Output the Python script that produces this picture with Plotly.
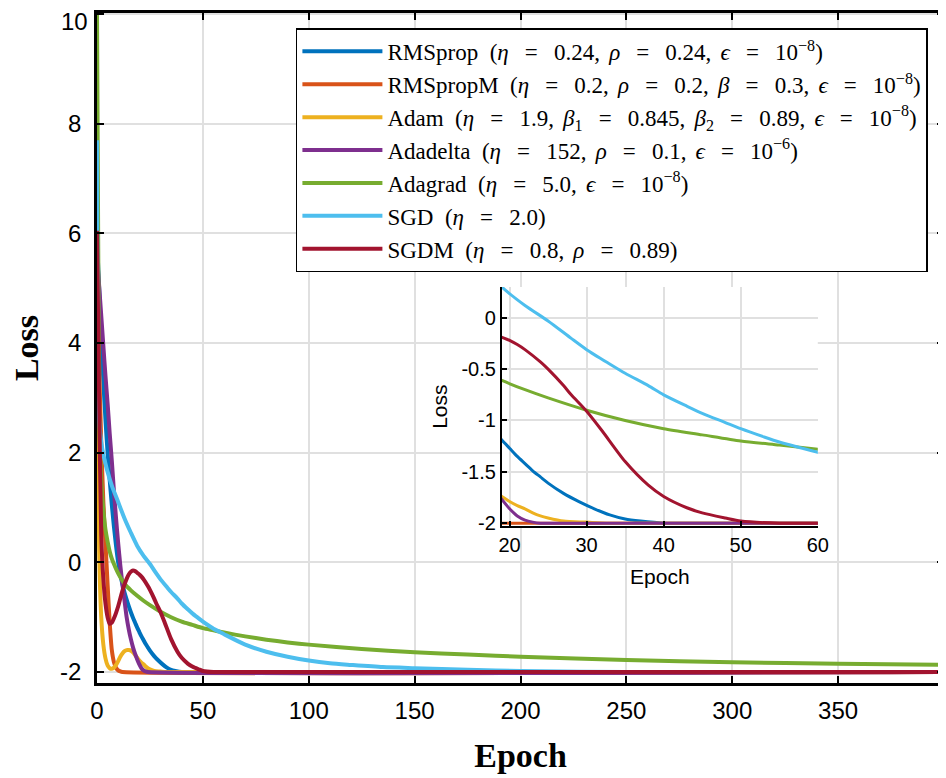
import plotly.graph_objects as go

# Loss curves (epoch, loss)
EQ = '\u2002\u2009=\u2002\u2009'   # wide spacing around "=", as in LaTeX math
CM = ',\u2009\u2009'
SP = '\u2002'
names = [
    f"RMSprop{SP}(<i>η</i>{EQ}0.24{CM}<i>ρ</i>{EQ}0.24{CM}<i>ϵ</i>{EQ}10<sup>−8</sup>)",
    f"RMSpropM{SP}(<i>η</i>{EQ}0.2{CM}<i>ρ</i>{EQ}0.2{CM}<i>β</i>{EQ}0.3{CM}<i>ϵ</i>{EQ}10<sup>−8</sup>)",
    f"Adam{SP}(<i>η</i>{EQ}1.9{CM}<i>β</i><sub>1</sub>{EQ}0.845{CM}<i>β</i><sub>2</sub>{EQ}0.89{CM}<i>ϵ</i>{EQ}10<sup>−8</sup>)",
    f"Adadelta{SP}(<i>η</i>{EQ}152{CM}<i>ρ</i>{EQ}0.1{CM}<i>ϵ</i>{EQ}10<sup>−6</sup>)",
    f"Adagrad{SP}(<i>η</i>{EQ}5.0{CM}<i>ϵ</i>{EQ}10<sup>−8</sup>)",
    f"SGD{SP}(<i>η</i>{EQ}2.0)",
    f"SGDM{SP}(<i>η</i>{EQ}0.8{CM}<i>ρ</i>{EQ}0.89)",
]
colors = ['#0072BD', '#D95319', '#EDB120', '#7E2F8E', '#77AC30', '#4DBEEE', '#A2142F']

rmsprop_x = [0, 1, 2, 3, 4, 5, 6, 7, 8, 9, 10, 11, 12, 13, 14, 15, 16, 17, 18, 19, 20, 21, 22, 23, 24, 25,
             27, 29, 31, 33, 35, 37, 40, 45, 400]
rmsprop_y = [5.9, 5.0, 4.1, 3.3, 2.6, 2.0, 1.5, 1.05, 0.65, 0.3, 0.0, -0.22, -0.4, -0.55, -0.68, -0.8, -0.91,
             -1.01, -1.1, -1.19, -1.27, -1.35, -1.42, -1.49, -1.55, -1.61, -1.71, -1.79, -1.86, -1.92, -1.96,
             -1.98, -2.0, -2.0, -2.0]

rmspropm_x = [0, 1, 2, 3, 4, 5, 6, 7, 8, 9, 10, 11, 12, 400]
rmspropm_y = [5.5, 3.6, 2.2, 1.1, 0.35, -0.4, -1.1, -1.6, -1.82, -1.92, -1.97, -1.99, -2.0, -2.0]

adam_x = [0, 1, 2, 3, 4, 5, 6, 7, 8, 9, 10, 11, 12, 13, 14, 15, 16, 17, 18, 19, 20, 21, 22, 23, 24, 25,
          27, 30, 33, 400]
adam_y = [5.7, 0.3, -1.0, -1.5, -1.75, -1.88, -1.93, -1.94, -1.92, -1.87, -1.8, -1.72, -1.66, -1.62, -1.6,
          -1.6, -1.61, -1.64, -1.69, -1.74, -1.79, -1.83, -1.86, -1.9, -1.93, -1.95, -1.98, -1.99, -2.0, -2.0]

adadelta_x = [0, 1, 2, 3, 4, 5, 6, 7, 8, 9, 10, 11, 12, 13, 14, 15, 16, 17, 18, 19, 20, 21, 22, 23, 24, 400]
adadelta_y = [5.6, 5.05, 4.5, 3.95, 3.4, 2.9, 2.35, 1.85, 1.3, 0.8, 0.35, -0.05, -0.4, -0.7, -1.0, -1.22,
              -1.4, -1.55, -1.67, -1.77, -1.86, -1.93, -1.97, -1.99, -2.0, -2.0]

adagrad_x = [0, 1, 2, 3, 4, 5, 6, 7, 8, 10, 13, 16, 19, 22, 25, 30, 35, 40, 45, 50, 55, 60, 70, 80, 90,
             100, 125, 150, 175, 200, 250, 300, 350, 400]
adagrad_y = [10.0, 2.6, 1.5, 0.95, 0.6, 0.38, 0.2, 0.07, -0.03, -0.2, -0.39, -0.51, -0.61, -0.7, -0.78,
             -0.9, -1.0, -1.08, -1.14, -1.2, -1.24, -1.28, -1.35, -1.41, -1.46, -1.5, -1.58, -1.64, -1.68,
             -1.72, -1.78, -1.82, -1.85, -1.87]

sgd_x = [0, 1, 2, 3, 4, 5, 7, 10, 13, 16, 19, 22, 25, 28, 30, 33, 35, 38, 40, 43, 45, 48, 50, 53, 55, 58,
         60, 70, 80, 90, 100, 110, 120, 135, 150, 175, 200, 250, 400]
sgd_y = [7.7, 2.6, 2.2, 1.97, 1.8, 1.65, 1.4, 1.1, 0.8, 0.54, 0.3, 0.12, -0.03, -0.2, -0.31, -0.45, -0.54,
         -0.66, -0.75, -0.86, -0.93, -1.02, -1.08, -1.16, -1.21, -1.27, -1.31, -1.5, -1.63, -1.72, -1.79,
         -1.84, -1.87, -1.91, -1.93, -1.96, -1.98, -2.0, -2.0]

sgdm_x = [0, 1, 2, 3, 4, 5, 6, 7, 8, 9, 10, 11, 12, 13, 14, 15, 16, 17, 18, 19, 20, 21, 22, 24, 25, 27,
          28, 30, 32, 35, 38, 40, 43, 45, 48, 50, 55, 60, 400]
sgdm_y = [6.05, 3.0, 0.5, -0.3, -0.75, -1.0, -1.12, -1.1, -1.02, -0.92, -0.8, -0.66, -0.52, -0.4, -0.3,
          -0.22, -0.17, -0.15, -0.16, -0.19, -0.22, -0.26, -0.31, -0.43, -0.5, -0.66, -0.75, -0.91, -1.1,
          -1.4, -1.63, -1.74, -1.85, -1.9, -1.95, -1.98, -2.0, -2.0, -2.0]

series_x = [rmsprop_x, rmspropm_x, adam_x, adadelta_x, adagrad_x, sgd_x, sgdm_x]
series_y = [rmsprop_y, rmspropm_y, adam_y, adadelta_y, adagrad_y, sgd_y, sgdm_y]

main_xticks = [0, 50, 100, 150, 200, 250, 300, 350]
main_yticks = [-2, 0, 2, 4, 6, 8, 10]
inset_xticks = [20, 30, 40, 50, 60]
inset_yticks = [-2, -1.5, -1, -0.5, 0]

fig = go.Figure()

# main curves
for name, c, xs, ys in zip(names, colors, series_x, series_y):
    fig.add_trace(go.Scatter(x=xs, y=ys, mode='lines', name=name,
                             line=dict(color=c, width=4, shape='spline', smoothing=0.7),
                             xaxis='x', yaxis='y'))

# zoomed inset, same data
for name, c, xs, ys in zip(names, colors, series_x, series_y):
    fig.add_trace(go.Scatter(x=xs, y=ys, mode='lines', name=name, showlegend=False,
                             line=dict(color=c, width=3, shape='spline', smoothing=0.7),
                             xaxis='x2', yaxis='y2'))

grid = '#e0e0e0'
sans = 'Liberation Sans, Arial, sans-serif'
serif = 'Liberation Serif, Times New Roman, serif'

# top tick label would be clipped by the page edge; drawn as an annotation nudged down a bit
ytick_text = [str(v) for v in main_yticks[:-1]] + ['']

# the page body adds an 8px margin, so the figure is 8px smaller than the window
fig.update_layout(
    width=938, height=770,
    margin=dict(l=89, r=2, t=5, b=95),
    paper_bgcolor='white', plot_bgcolor='white',
    font=dict(family=sans, color='black'),
    xaxis=dict(
        range=[0, 400], domain=[0, 1], automargin=False,
        tickvals=main_xticks, ticktext=[str(v) for v in main_xticks],
        ticks='inside', ticklen=7, tickwidth=2, tickcolor='black', ticklabelstandoff=4,
        showline=True, linewidth=2.5, linecolor='black', mirror='ticks',
        showgrid=True, gridcolor=grid, gridwidth=2, zeroline=False,
        tickfont=dict(size=24, family=sans),
        title=dict(text='<b>Epoch</b>', font=dict(size=34, family=serif), standoff=21),
    ),
    yaxis=dict(
        range=[-2.2, 10.02], domain=[0, 1], automargin=False,
        tickvals=main_yticks, ticktext=ytick_text,
        ticks='inside', ticklen=7, tickwidth=2, tickcolor='black', ticklabelstandoff=8,
        showline=True, linewidth=2.5, linecolor='black', mirror='ticks',
        showgrid=True, gridcolor=grid, gridwidth=2, zeroline=False,
        tickfont=dict(size=24, family=sans),
        title=dict(text='<b>Loss</b>', font=dict(size=34, family=serif), standoff=14),
    ),
    xaxis2=dict(
        anchor='y2', domain=[0.478, 0.851], range=[19, 60], automargin=False,
        tickvals=inset_xticks, ticktext=[str(v) for v in inset_xticks],
        ticks='inside', ticklen=5, tickwidth=1.5, tickcolor='black',
        showline=True, linewidth=2, linecolor='black', mirror=False,
        showgrid=True, gridcolor=grid, gridwidth=2, zeroline=False,
        tickfont=dict(size=20, family=sans),
        title=dict(text='Epoch', font=dict(size=21, family=sans), standoff=14),
    ),
    yaxis2=dict(
        anchor='x2', domain=[0.234, 0.591], range=[-2.03, 0.3], automargin=False,
        tickvals=inset_yticks, ticktext=['-2', '-1.5', '-1', '-0.5', '0'],
        ticks='inside', ticklen=5, tickwidth=1.5, tickcolor='black',
        showline=True, linewidth=2, linecolor='black', mirror=False,
        showgrid=True, gridcolor=grid, gridwidth=2, zeroline=False,
        tickfont=dict(size=20, family=sans),
        title=dict(text='Loss', font=dict(size=21, family=sans), standoff=8),
    ),
    legend=dict(
        x=0.981, y=0.977, xanchor='right', yanchor='top',
        bgcolor='white', bordercolor='black', borderwidth=1.5,
        font=dict(size=23, family=serif, color='black'),
        itemwidth=80, tracegroupgap=0,
    ),
    annotations=[
        dict(text=str(main_yticks[-1]), xref='paper', yref='y', x=0, y=main_yticks[-1],
             xanchor='right', yanchor='top', xshift=-7, yshift=8, showarrow=False,
             font=dict(size=24, family=sans, color='black')),
    ],
    shapes=[
        # white background of the inset hides the main grid behind it
        dict(type='rect', xref='x2 domain', yref='y2 domain', x0=0, x1=1, y0=0, y1=1,
             fillcolor='white', line=dict(width=0), layer='below'),
    ],
)

fig.write_html("out.html")
